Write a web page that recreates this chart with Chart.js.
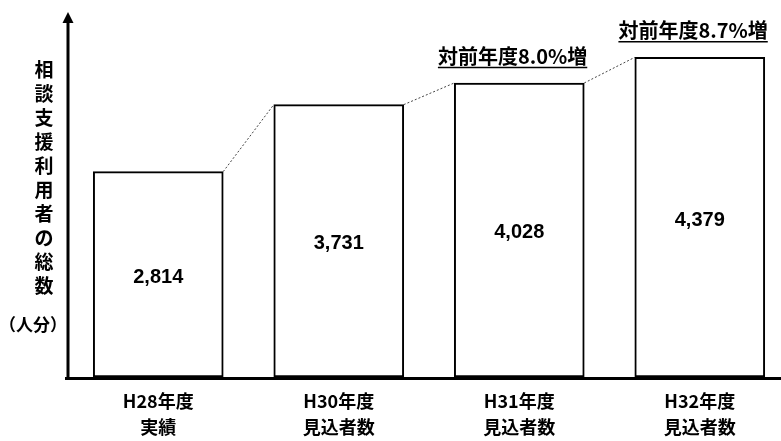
<!DOCTYPE html>
<html>
<head>
<meta charset="utf-8">
<script src="https://cdn.jsdelivr.net/npm/chart.js@4"></script>
<style>
  html, body { margin: 0; padding: 0; background: #fff; }
  #wrap { width: 781px; height: 441px; position: relative; }
</style>
</head>
<body>
<div id="wrap"><canvas id="c"></canvas></div>
<script>
'use strict';

// data
const YEARS = ['H28年度', 'H30年度', 'H31年度', 'H32年度'];
const KINDS = ['実績', '見込者数', '見込者数', '見込者数'];
const USERS = [2814, 3731, 4028, 4379];
const NOTES = ['', '', '対前年度8.0%増', '対前年度8.7%増'];
const Y_TITLE = '相談支援利用者の総数';
const Y_UNIT = '（人分）';

const JP = '"Noto Sans CJK JP", sans-serif';

// axes with arrow, connectors, labels, notes
const decor = {
  id: 'decor',
  afterDatasetsDraw(chart) {
    const { ctx, chartArea: a } = chart;
    const bars = chart.getDatasetMeta(0).data;
    ctx.save();

    // dotted connectors between bar tops
    ctx.strokeStyle = '#444';
    ctx.lineWidth = 1;
    ctx.setLineDash([2, 2]);
    for (let i = 0; i < bars.length - 1; i++) {
      const b = bars[i], n = bars[i + 1];
      ctx.beginPath();
      ctx.moveTo(b.x + b.width / 2, b.y);
      ctx.lineTo(n.x - n.width / 2, n.y);
      ctx.stroke();
    }
    ctx.setLineDash([]);

    // axes
    ctx.strokeStyle = '#000';
    ctx.lineWidth = 3;
    ctx.beginPath();
    ctx.moveTo(a.left - 3, a.bottom + 1.5);
    ctx.lineTo(chart.width, a.bottom + 1.5);
    ctx.moveTo(a.left, a.bottom + 1.5);
    ctx.lineTo(a.left, a.top + 8);
    ctx.stroke();
    ctx.fillStyle = '#000';
    ctx.beginPath();
    ctx.moveTo(a.left, a.top);
    ctx.lineTo(a.left - 5.5, a.top + 11);
    ctx.lineTo(a.left + 5.5, a.top + 11);
    ctx.closePath();
    ctx.fill();

    // values in bars
    ctx.font = 'bold 20px "Liberation Sans", Arial, sans-serif';
    ctx.textAlign = 'center';
    ctx.textBaseline = 'middle';
    bars.forEach((b, i) => {
      ctx.fillText(USERS[i].toLocaleString('en-US'), b.x, (b.y + b.base) / 2 + 3);
    });

    // growth notes, underlined
    ctx.font = 'bold 20px ' + JP;
    ctx.textAlign = 'right';
    ctx.textBaseline = 'alphabetic';
    ctx.lineWidth = 1.5;
    bars.forEach((b, i) => {
      if (!NOTES[i]) return;
      const xr = b.x + b.width / 2 + 3;
      const yb = b.y - 19;
      ctx.fillText(NOTES[i], xr, yb);
      const w = ctx.measureText(NOTES[i]).width;
      ctx.beginPath();
      ctx.moveTo(xr - w, yb + 3.5);
      ctx.lineTo(xr, yb + 3.5);
      ctx.stroke();
    });

    // vertical y title
    ctx.textAlign = 'center';
    ctx.textBaseline = 'middle';
    ctx.font = 'bold 19px ' + JP;
    const tx = a.left - 24;
    [...Y_TITLE].forEach((ch, i) => ctx.fillText(ch, tx, a.top + 58 + i * 24));
    ctx.font = 'bold 17px ' + JP;
    ctx.fillText(Y_UNIT, tx - 11, a.top + 313);
    ctx.restore();
  },
};

new Chart(document.getElementById('c'), {
  type: 'bar',
  data: {
    datasets: [{
      data: USERS.map((v, i) => ({ x: i, y: v })),
      backgroundColor: '#fff',
      borderColor: '#000',
      borderWidth: 2,
      borderSkipped: false,
      barThickness: 130,
    }],
  },
  options: {
    responsive: true,
    maintainAspectRatio: false,
    animation: false,
    layout: { padding: { left: 68, top: 12, right: 0, bottom: -10 } },
    plugins: { legend: { display: false }, tooltip: { enabled: false } },
    scales: {
      x: {
        type: 'linear',
        offset: false,
        min: -0.5,
        max: 3.45,
        grid: { display: false, drawTicks: false, tickLength: 0 },
        border: { display: false },
        afterBuildTicks: (s) => { s.ticks = YEARS.map((_, i) => ({ value: i })); },
        ticks: {
          autoSkip: false,
          maxRotation: 0,
          padding: 11,
          color: '#000',
          font: { family: JP, size: 18, weight: 'bold', lineHeight: '26px' },
          callback: (v) => [YEARS[v], KINDS[v]],
        },
      },
      y: { display: false, min: 0, max: 5000 },
    },
  },
  plugins: [decor],
});
</script>
</body>
</html>
